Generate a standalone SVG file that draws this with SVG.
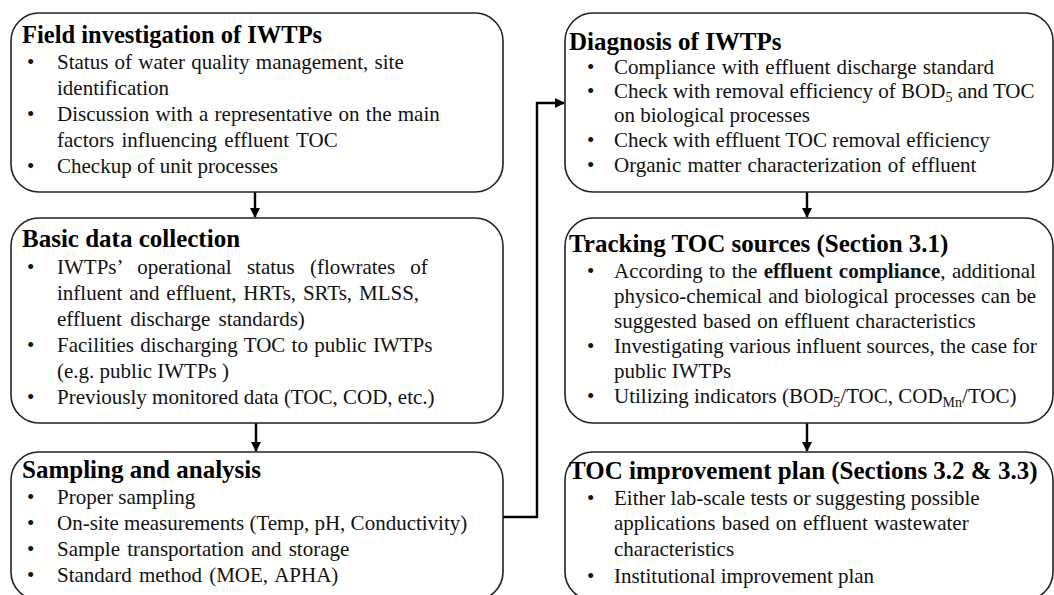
<svg xmlns="http://www.w3.org/2000/svg" width="1054" height="595" viewBox="0 0 1054 595">
<style>
.box{fill:#fff;stroke:#222;stroke-width:1.6}
.h{font-family:"Liberation Serif","Times New Roman",serif;font-size:25px;font-weight:bold;fill:#000}
.t{font-family:"Liberation Serif","Times New Roman",serif;font-size:21px;fill:#111}
.c{fill:none;stroke:#000;stroke-width:2.4}
</style>
<defs>
<marker id="ah" markerWidth="10" markerHeight="10" refX="9" refY="5" orient="auto" markerUnits="userSpaceOnUse">
<path d="M0,0 L10,5 L0,10 Z" fill="#000"/>
</marker>
</defs>
<rect width="1054" height="595" fill="#fff"/>

<g id="connectors">
<line class="c" x1="255" y1="192" x2="255" y2="217" marker-end="url(#ah)"/>
<line class="c" x1="256" y1="423" x2="256" y2="451" marker-end="url(#ah)"/>
<line class="c" x1="807" y1="192" x2="807" y2="217" marker-end="url(#ah)"/>
<line class="c" x1="807" y1="423" x2="807" y2="451" marker-end="url(#ah)"/>
<path class="c" d="M503,517 H537 V103 H564" marker-end="url(#ah)"/>
</g>

<g id="field">
<rect class="box" x="11" y="13" width="492" height="179" rx="28"/>
<text class="h" x="22" y="43" style="font-size:24.5px">Field investigation of IWTPs</text>
<text class="t" x="27" y="69">•</text><text class="t" x="57" y="69" word-spacing="1">Status of water quality management, site</text>
<text class="t" x="57" y="95">identification</text>
<text class="t" x="27" y="121">•</text><text class="t" x="57" y="121" word-spacing="1">Discussion with a representative on the main</text>
<text class="t" x="57" y="147" word-spacing="2">factors influencing effluent TOC</text>
<text class="t" x="27" y="173">•</text><text class="t" x="57" y="173">Checkup of unit processes</text>
</g>

<g id="basic">
<rect class="box" x="11" y="218" width="492" height="205" rx="28"/>
<text class="h" x="22" y="247">Basic data collection</text>
<text class="t" x="27" y="274">•</text><text class="t" x="57" y="274" word-spacing="10">IWTPs’ operational status (flowrates of</text>
<text class="t" x="57" y="300" word-spacing="1.6">influent and effluent, HRTs, SRTs, MLSS,</text>
<text class="t" x="57" y="326" word-spacing="3">effluent discharge standards)</text>
<text class="t" x="27" y="352">•</text><text class="t" x="57" y="352" word-spacing="1">Facilities discharging TOC to public IWTPs</text>
<text class="t" x="57" y="378">(e.g. public IWTPs )</text>
<text class="t" x="27" y="404">•</text><text class="t" x="57" y="404">Previously monitored data (TOC, COD, etc.)</text>
</g>

<g id="sampling">
<rect class="box" x="11" y="452" width="492" height="148" rx="28"/>
<text class="h" x="22" y="478">Sampling and analysis</text>
<text class="t" x="27" y="504">•</text><text class="t" x="57" y="504">Proper sampling</text>
<text class="t" x="27" y="530">•</text><text class="t" x="57" y="530">On-site measurements (Temp, pH, Conductivity)</text>
<text class="t" x="27" y="556">•</text><text class="t" x="57" y="556" word-spacing="2">Sample transportation and storage</text>
<text class="t" x="27" y="582">•</text><text class="t" x="57" y="582" word-spacing="2">Standard method (MOE, APHA)</text>
</g>

<g id="diagnosis">
<rect class="box" x="565" y="13" width="488" height="179" rx="28"/>
<text class="h" x="569" y="50">Diagnosis of IWTPs</text>
<text class="t" x="587" y="74">•</text><text class="t" x="614" y="74" word-spacing="1">Compliance with effluent discharge standard</text>
<text class="t" x="587" y="98">•</text><text class="t" x="614" y="98">Check with removal efficiency of BOD<tspan font-size="14" dy="4">5</tspan><tspan dy="-4"> and TOC</tspan></text>
<text class="t" x="614" y="122">on biological processes</text>
<text class="t" x="587" y="147">•</text><text class="t" x="614" y="147">Check with effluent TOC removal efficiency</text>
<text class="t" x="587" y="172">•</text><text class="t" x="614" y="172" word-spacing="1">Organic matter characterization of effluent</text>
</g>

<g id="tracking">
<rect class="box" x="565" y="218" width="488" height="205" rx="28"/>
<text class="h" x="569" y="252">Tracking TOC sources (Section 3.1)</text>
<text class="t" x="587" y="278">•</text><text class="t" x="614" y="278" word-spacing="1.1">According to the <tspan font-weight="bold">effluent compliance</tspan>, additional</text>
<text class="t" x="614" y="303" word-spacing="0.8">physico-chemical and biological processes can be</text>
<text class="t" x="614" y="328" word-spacing="1">suggested based on effluent characteristics</text>
<text class="t" x="587" y="353">•</text><text class="t" x="614" y="353">Investigating various influent sources, the case for</text>
<text class="t" x="614" y="378">public IWTPs</text>
<text class="t" x="587" y="403">•</text><text class="t" x="614" y="403">Utilizing indicators (BOD<tspan font-size="14" dy="4">5</tspan><tspan dy="-4">/TOC, COD</tspan><tspan font-size="14" dy="4">Mn</tspan><tspan dy="-4">/TOC)</tspan></text>
</g>

<g id="improvement">
<rect class="box" x="565" y="452" width="488" height="148" rx="28"/>
<text class="h" x="569" y="479">TOC improvement plan (Sections 3.2 &amp; 3.3)</text>
<text class="t" x="587" y="505">•</text><text class="t" x="614" y="505">Either lab-scale tests or suggesting possible</text>
<text class="t" x="614" y="530" word-spacing="1">applications based on effluent wastewater</text>
<text class="t" x="614" y="556">characteristics</text>
<text class="t" x="587" y="583">•</text><text class="t" x="614" y="583">Institutional improvement plan</text>
</g>
</svg>
